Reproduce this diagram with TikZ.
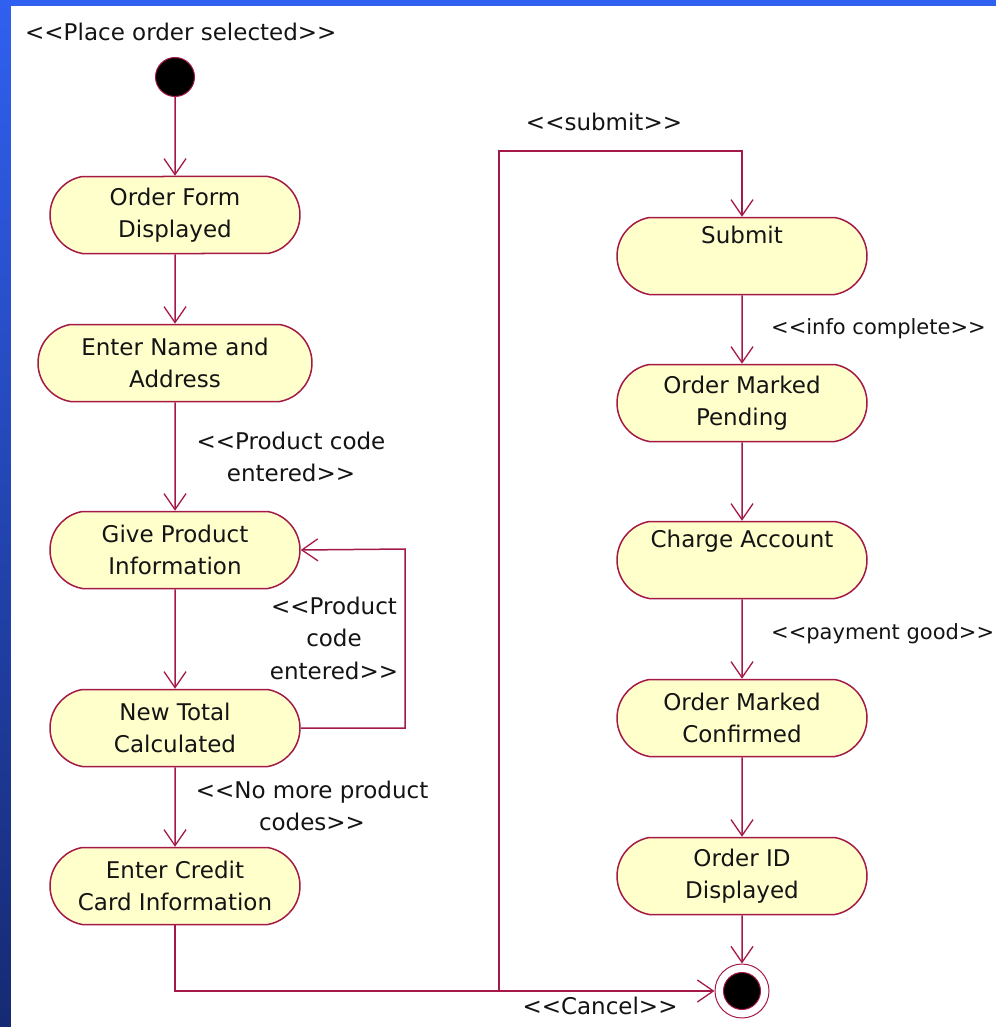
\documentclass[tikz,border=0pt]{standalone}
\usepackage{fontspec}
\setmainfont{DejaVu Sans}[Ligatures=TeXOff]
\usetikzlibrary{arrows.meta,shapes.misc}
\definecolor{edge}{RGB}{165,25,70}
\definecolor{boxfill}{RGB}{255,255,204}
\definecolor{topblue}{RGB}{48,96,240}
\definecolor{navy}{RGB}{22,42,115}
\definecolor{ink}{RGB}{20,20,20}
\begin{document}
\begin{tikzpicture}[x=1pt,y=-1pt,
  txt/.style={font=\fontsize{23}{32.5}\selectfont, text=ink},
  act/.style={txt, draw=edge, fill=boxfill, line width=1.5pt,
    rounded rectangle, rounded rectangle arc length=160,
    minimum width=250pt, minimum height=77pt, align=center, inner sep=0pt},
  lbl/.style={txt, align=center, inner sep=0pt},
  sidelbl/.style={lbl, font=\fontsize{21}{30}\selectfont, anchor=west},
  flow/.style={draw=edge, line width=1.5pt,
    -{Straight Barb[length=16pt,width=22pt,line width=1.3pt]}},
  startnode/.style={circle, fill=black, draw=edge, line width=1pt, minimum size=39pt, inner sep=0pt},
  endouter/.style={circle, fill=white, draw=edge, line width=1pt, minimum size=54pt, inner sep=0pt},
  endinner/.style={circle, fill=black, draw=edge, line width=1pt, minimum size=37pt, inner sep=0pt},
]
\useasboundingbox (0,0) rectangle (996,1027);
\clip (0,0) rectangle (996,1027);
% slide background
\fill[topblue] (0,0) rectangle (996,6);
\shade[top color=topblue, bottom color=navy] (0,0) rectangle (11,1027);
\fill[white] (11,6) rectangle (996,1027);

% left column
\node[lbl, anchor=west] (title) at (25,32) {<<Place order selected>>};
\node[startnode] (start) at (175,77) {};
\node[act] (ofd) at (175,215) {Order Form\\Displayed};
\node[act, minimum width=274pt] (ena) at (175,363) {Enter Name and\\Address};
\node[act] (gpi) at (175,550) {Give Product\\Information};
\node[act] (ntc) at (175,728) {New Total\\Calculated};
\node[act] (ecc) at (175,886) {Enter Credit\\Card Information};

% right column
\node[act] (sub) at (742,256) {Submit\\\strut};
\node[act] (omp) at (742,403) {Order Marked\\Pending};
\node[act] (ca) at (742,560) {Charge Account\\\strut};
\node[act] (omc) at (742,718) {Order Marked\\Confirmed};
\node[act] (oid) at (742,876) {Order ID\\Displayed};
\node[endouter] (final) at (742,991) {};
\node[endinner] (finalin) at (742,991) {};

% labels
\node[lbl] (l1) at (291,457) {<<Product code\\entered>>};
\node[lbl] (l2) at (334,638) {<<Product\\code\\entered>>};
\node[lbl] (l3) at (312,806) {<<No more product\\codes>>};
\node[lbl] (l4) at (604,122) {<<submit>>};
\node[sidelbl] (l5) at (771,329) {<<info complete>>};
\node[sidelbl] (l6) at (771,634) {<<payment good>>};
\node[lbl] (l7) at (600,1006) {<<Cancel>>};

% connectors
\coordinate (lp) at (405,549);
\coordinate (j) at (499,991);
\coordinate (s1) at (499,151);
\draw[flow] (start) -- (ofd);
\draw[flow] (ofd) -- (ena);
\draw[flow] (ena) -- (gpi);
\draw[flow] (gpi) -- (ntc);
\draw[flow] (ntc) -- (ecc);
\draw[flow] (ntc.east) -| (lp) -- (gpi.east);
\draw[flow] (ecc.south) |- (j) -- (s1) -| (sub.north);
\draw[flow] (ecc.south) |- (final.west);
\draw[flow] (sub) -- (omp);
\draw[flow] (omp) -- (ca);
\draw[flow] (ca) -- (omc);
\draw[flow] (omc) -- (oid);
\draw[flow] (oid) -- (final);
\end{tikzpicture}
\end{document}
